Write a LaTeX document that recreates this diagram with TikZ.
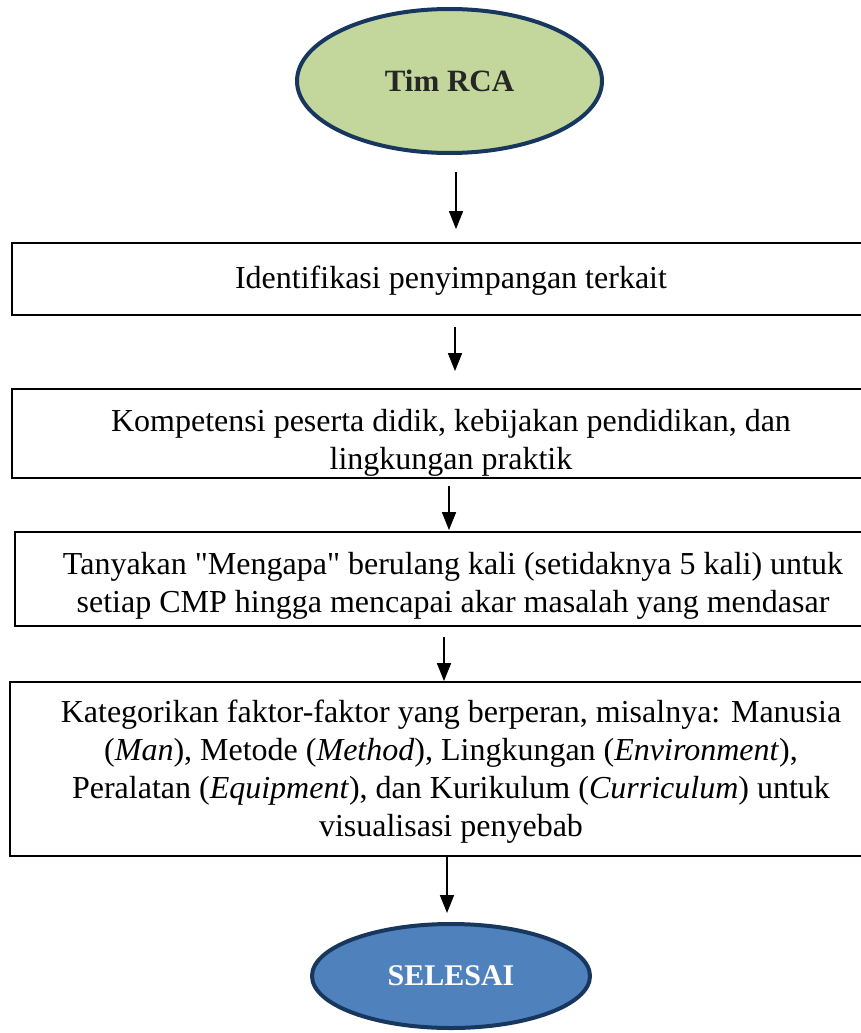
\documentclass[tikz,border=0pt]{standalone}
\usepackage{fontspec}
\setmainfont{Liberation Serif}
\usetikzlibrary{shapes.geometric,arrows.meta}
\definecolor{navyline}{HTML}{17375E}
\definecolor{olivefill}{HTML}{C3D69B}
\definecolor{bluefill}{HTML}{4F81BD}
\definecolor{darktext}{HTML}{262626}
\tikzset{
  term/.style={ellipse, draw=navyline, line width=4pt, inner sep=0pt, font=\rmfamily\fontsize{31}{36}\selectfont\bfseries},
  procbox/.style={rectangle, draw=black, line width=1.8pt, inner sep=0pt},
  proctext/.style={align=center, inner sep=0pt, font=\rmfamily\fontsize{32}{38}\selectfont},
  arr/.style={-{Triangle[width=14pt,length=18pt]}, line width=1.6pt, black}
}
\begin{document}
\begin{tikzpicture}[x=1pt,y=1pt]
\useasboundingbox (0,0) rectangle (861,-1033);
\clip (0,0) rectangle (861,-1033);
\node[term, fill=olivefill, text=darktext, minimum width=305pt, minimum height=144pt] (e1) at (449.5,-81) {Tim RCA};
\node[procbox, minimum width=878pt, minimum height=72pt,
  label={[proctext, yshift=-2pt]center:Identifikasi penyimpangan terkait}] (b1) at (451,-279) {};
\node[procbox, minimum width=878pt, minimum height=89pt,
  label={[proctext, yshift=-9pt]center:Kompetensi peserta didik, kebijakan pendidikan, dan\\lingkungan praktik}] (b2) at (451,-433.5) {};
\node[procbox, minimum width=872pt, minimum height=94pt,
  label={[proctext, yshift=-7pt, xshift=2pt]center:Tanyakan \textquotedbl Mengapa\textquotedbl{} berulang kali (setidaknya 5 kali) untuk\\setiap CMP hingga mencapai akar masalah yang mendasar}] (b3) at (451,-579) {};
\node[procbox, minimum width=882pt, minimum height=174pt,
  label={[proctext, yshift=-3pt]center:Kategorikan faktor-faktor yang berperan, misalnya: Manusia\\(\emph{Man}), Metode (\emph{Method}), Lingkungan (\emph{Environment}),\\Peralatan (\emph{Equipment}), dan Kurikulum (\emph{Curriculum}) untuk\\visualisasi penyebab}] (b4) at (451,-769) {};
\node[term, fill=bluefill, text=white, minimum width=278pt, minimum height=104pt, font=\rmfamily\fontsize{30}{34}\selectfont\bfseries] (e2) at (451,-976) {SELESAI};
\coordinate (s1) at (456,-172);
\coordinate (s2) at (455,-327);
\coordinate (s3) at (449,-486);
\coordinate (s4) at (444,-637);
\draw[arr, shorten >=13pt] (s1) -- (s1 |- b1.north);
\draw[arr, shorten >=17pt] (s2) -- (s2 |- b2.north);
\draw[arr, shorten >=1pt] (s3) -- (s3 |- b3.north);
\draw[arr] (s4) -- (s4 |- b4.north);
\draw[arr, shorten >=9pt] (b4.south -| 447,0) -- (e2.north -| 447,0);
\end{tikzpicture}
\end{document}
